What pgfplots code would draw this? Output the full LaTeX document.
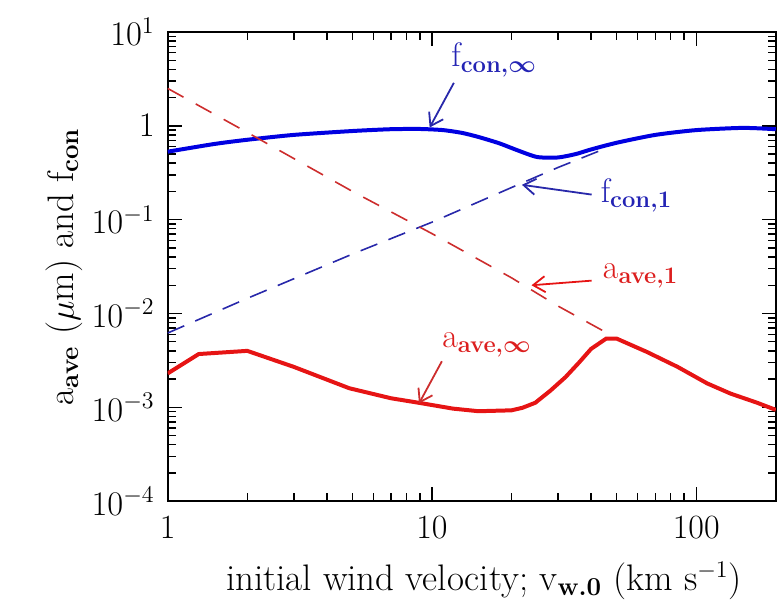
\documentclass[border=0pt]{standalone}
\usepackage{pgfplots}
\usepackage{amsmath}
\pgfplotsset{compat=1.18}
\usetikzlibrary{arrows.meta}
\definecolor{bluesolid}{RGB}{0,0,225}
\definecolor{bluedash}{RGB}{40,40,170}
\definecolor{bluetext}{RGB}{35,35,180}
\definecolor{redsolid}{RGB}{230,20,20}
\definecolor{reddash}{RGB}{205,45,45}
\definecolor{redtext}{RGB}{220,30,30}

\begin{document}
\begin{tikzpicture}
\begin{axis}[
    name=ax,
    xmode=log, ymode=log,
    scale only axis,
    width=304.5pt, height=235pt,
    xmin=1, xmax=200,
    ymin=1e-4, ymax=10,
    xtick={1,10,100},
    xticklabels={1,10,100},
    ytick={1e-4,1e-3,1e-2,1e-1,1,10},
    yticklabels={$10^{-4}$,$10^{-3}$,$10^{-2}$,$10^{-1}$,$1$,$10^{1}$},
    tick align=inside,
    major tick length=7pt,
    minor tick length=4pt,
    tick style={black, line width=0.7pt},
    axis line style={black, line width=0.9pt},
    tick label style={font=\fontsize{17}{20}\selectfont},
    xticklabel style={yshift=-4pt},
    yticklabel style={xshift=-3pt},
    xlabel={initial wind velocity; v$_{\textbf{w.0}}$ (km s$^{-1}$)},
    ylabel={a$_{\textbf{ave}}$ ($\mu$m) and f$_{\textbf{con}}$},
    label style={font=\fontsize{18.5}{22}\selectfont},
    xlabel style={at={(axis description cs:0.52,-0.17)}, anchor=center},
    ylabel style={at={(axis description cs:-0.17,0.5)}, anchor=center},
]

% f_con,inf
\addplot[bluesolid, line width=2pt, smooth, tension=0.4] coordinates {
    (1,0.53) (1.5,0.64) (2,0.71) (3,0.80) (5,0.88) (7,0.92) (9,0.925)
    (11,0.9) (13,0.84) (15,0.76) (18,0.65) (21,0.55) (25,0.465) (30,0.46)
    (35,0.5) (40,0.56) (50,0.66) (70,0.8) (100,0.9) (150,0.95) (200,0.92)
};

% f_con,1
\addplot[bluedash, line width=0.8pt, dash pattern=on 9pt off 6pt] coordinates {
    (1,0.0062) (2,0.0145) (5,0.043) (10,0.094) (20,0.22) (30,0.36) (43,0.54)
};

% a_ave,1
\addplot[reddash, line width=0.8pt, dash pattern=on 9pt off 7pt] coordinates {
    (1,2.5) (2,0.85) (5,0.2) (10,0.071) (20,0.024) (30,0.012) (48,0.0058)
};

% a_ave,inf
\addplot[redsolid, line width=2pt] coordinates {
    (1,0.0023) (1.31,0.0037) (2,0.0040) (3,0.0027) (4.86,0.0016) (7,0.00125)
    (8.9,0.00112) (12,0.00097) (15,0.00091) (20,0.00093) (22,0.00099)
    (24.6,0.00112) (28,0.0015) (32,0.0021) (36,0.003) (40,0.0042)
    (45.6,0.0054) (50,0.0054) (65,0.0039) (85,0.0027) (110,0.0018)
    (135,0.0014) (170,0.00112) (200,0.00094)
};

% annotations
\draw[bluedash, line width=0.9pt, -{Straight Barb[length=6pt,width=8pt]}]
    (axis cs:12.1,2.87) -- (axis cs:9.8,0.96);
\node[text=bluetext, anchor=base west, inner sep=0pt, font=\fontsize{17}{20}\selectfont]
    at (axis cs:11.8,4.25) {f$_{\textbf{con,}\boldsymbol{\infty}}$};

\draw[bluedash, line width=0.9pt, -{Straight Barb[length=6pt,width=8pt]}]
    (axis cs:40.2,0.185) -- (axis cs:21.9,0.235);
\node[text=bluetext, anchor=base west, inner sep=0pt, font=\fontsize{17}{20}\selectfont]
    at (axis cs:43.4,0.152) {f$_{\textbf{con,1}}$};

\draw[redsolid, line width=0.9pt, -{Straight Barb[length=6pt,width=8pt]}]
    (axis cs:40.2,0.0224) -- (axis cs:23.8,0.020);
\node[text=redtext, anchor=base west, inner sep=0pt, font=\fontsize{17}{20}\selectfont]
    at (axis cs:44.2,0.0236) {a$_{\textbf{ave,1}}$};

\draw[reddash, line width=0.9pt, -{Straight Barb[length=6pt,width=8pt]}]
    (axis cs:10.9,0.0031) -- (axis cs:8.93,0.0011);
\node[text=redtext, anchor=base west, inner sep=0pt, font=\fontsize{17}{20}\selectfont]
    at (axis cs:10.9,0.00434) {a$_{\textbf{ave,}\boldsymbol{\infty}}$};

\end{axis}
\path (ax.south west) ++(-84pt,-51pt) coordinate (bl);
\path (ax.north east) ++(0.6pt,16pt) coordinate (tr);
\pgfresetboundingbox
\path (bl) rectangle (tr);
\end{tikzpicture}
\end{document}
